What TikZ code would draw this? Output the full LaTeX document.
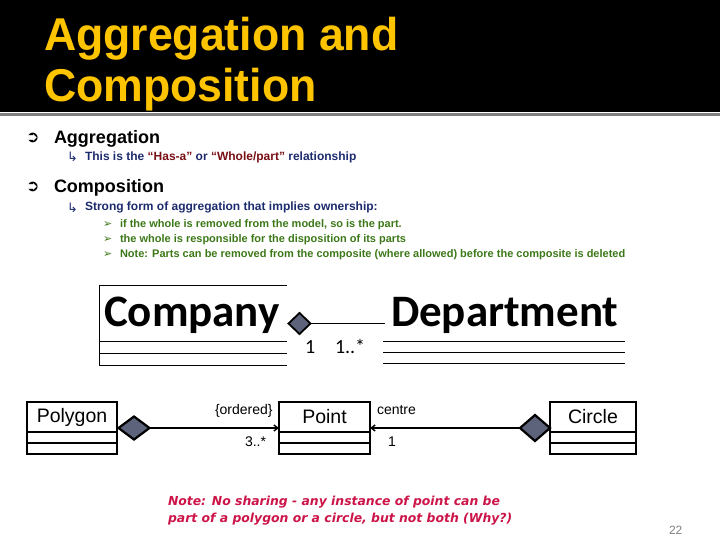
\documentclass[tikz,border=0pt]{standalone}
\usepackage{fontspec}
\setmainfont{Liberation Sans}
\newfontfamily\calib{Carlito}
\newfontfamily\dejavu{DejaVu Sans}
\usetikzlibrary{arrows.meta,shapes.geometric}
\definecolor{titleyellow}{RGB}{255,196,0}
\definecolor{navy}{RGB}{28,42,110}
\definecolor{darkred}{RGB}{120,14,20}
\definecolor{dgreen}{RGB}{60,120,24}
\definecolor{notered}{RGB}{204,20,72}
\definecolor{diafill}{RGB}{92,99,122}
\newcommand{\fs}[1]{\fontsize{#1}{#1}\selectfont}
\begin{document}
\begin{tikzpicture}[x=1pt,y=-1pt,
  every node/.style={inner sep=0pt,outer sep=0pt},
  titletext/.style={anchor=base west,text=titleyellow,font=\fs{46}\bfseries},
  headtext/.style={anchor=base west,font=\fs{18}\bfseries},
  bulletone/.style={anchor=base west,font=\dejavu\fs{16}},
  subtext/.style={anchor=base west,text=navy,font=\fs{12}\bfseries},
  subbullet/.style={anchor=base west,text=navy,font=\dejavu\fs{13}},
  greentext/.style={anchor=base west,text=dgreen,font=\fs{11}\bfseries},
  greenbullet/.style={anchor=base west,text=dgreen,font=\dejavu\fs{11}},
  bigname/.style={anchor=base west,font=\calib\bfseries\fs{45}},
  mult/.style={anchor=base west,font=\calib\fs{20}},
  umlline/.style={line width=1pt},
  classname/.style={draw,line width=1.6pt,anchor=north west,minimum height=30pt,font=\fs{19.5}},
  umlthick/.style={line width=1.6pt},
  agg/.style={diamond,draw,line width=2pt,fill=diafill,inner sep=0pt},
  rolelabel/.style={anchor=base west,font=\fs{14}},
  notetext/.style={anchor=base west,text=notered,font=\dejavu\bfseries\itshape\fs{12.4}},
  tip/.style={-{Straight Barb[length=4pt,width=6pt]}}
]
\useasboundingbox (0,0) rectangle (720,540);
% title band
\fill[black] (0,0) rectangle (720,112.5);
\draw[gray,line width=2.5pt] (0,114.5) -- (720,114.5);
\node[titletext] (t1) at (44,51) {\scalebox{0.97}[1]{Aggregation and}};
\node[titletext] (t2) at (44,102) {\scalebox{0.97}[1]{Composition}};
% bullets
\node[bulletone] (b1) at (26,143) {➲};
\node[headtext] (h1) at (54,144) {Aggregation};
\node[subbullet] (sb1) at (67,162) {↳};
\node[subtext] (s1) at (85,161) {This is the {\color{darkred}“Has-a”} or {\color{darkred}“Whole/part”} relationship};
\node[bulletone] (b2) at (26,192) {➲};
\node[headtext] (h2) at (54,193) {Composition};
\node[subbullet] (sb2) at (67,212) {↳};
\node[subtext] (s2) at (85,211) {Strong form of aggregation that implies ownership:};
\node[greenbullet] (g1b) at (103,227) {➢};
\node[greentext] (g1) at (120,227) {if the whole is removed from the model, so is the part.};
\node[greenbullet] (g2b) at (103,243) {➢};
\node[greentext] (g2) at (120,243) {the whole is responsible for the disposition of its parts};
\node[greenbullet] (g3b) at (103,258) {➢};
\node[greentext] (g3) at (120,258) {Note: Parts can be removed from the composite (where allowed) before the composite is deleted};
% Company / Department
\draw[umlline] (99,285) -- (287,285);
\draw[umlline] (99,285) -- (99,365);
\draw[umlline] (99,341) -- (287,341);
\draw[umlline] (99,353) -- (287,353);
\draw[umlline] (99,365) -- (287,365);
\draw[umlline] (383,341) -- (625,341);
\draw[umlline] (383,352) -- (625,352);
\draw[umlline] (383,363) -- (625,363);
\node[bigname] (company) at (104,326) {Company};
\node[bigname] (department) at (391,326) {Department};
\node[agg,line width=1.8pt,minimum width=22pt,minimum height=21pt] (cdia) at (299.5,323.5) {};
\coordinate (dend) at (385,323.5);
\draw[line width=1.4pt] (cdia.east) -- (dend);
\node[mult] (m1) at (305,353) {1};
\node[mult] (m2) at (335,353) {1..*};
% Polygon / Point / Circle
\node[classname,minimum width=90pt] (poly) at (27,402) {Polygon};
\draw[umlthick] (poly.south west) rectangle ++(90,11) ++(-90,0) rectangle ++(90,11);
\node[classname,minimum width=91pt] (point) at (279,402) {Point};
\draw[umlthick] (point.south west) rectangle ++(91,11) ++(-91,0) rectangle ++(91,11);
\node[classname,minimum width=86pt] (circle) at (550,402) {Circle};
\draw[umlthick] (circle.south west) rectangle ++(86,11) ++(-86,0) rectangle ++(86,11);
\node[agg,line width=2.2pt,minimum width=31pt,minimum height=23pt] (pdia) at (134,428) {};
\node[agg,line width=2.2pt,minimum width=30pt,minimum height=26pt] (kdia) at (535,428) {};
\draw[line width=1.4pt,tip] (pdia.east) -- (pdia.east -| point.west);
\draw[line width=1.4pt,tip] (kdia.west) -- (kdia.west -| point.east);
\node[rolelabel] (ord) at (215,414) {\{ordered\}};
\node[rolelabel] (m3) at (245,446) {3..*};
\node[rolelabel] (cen) at (377,414) {centre};
\node[rolelabel] (m4) at (388,446) {1};
% note
\node[notetext] (n1) at (168,505) {Note: No sharing - any instance of point can be};
\node[notetext] (n2) at (168,522) {part of a polygon or a circle, but not both (Why?)};
\node[anchor=base west,text=gray,font=\fs{12}] (pg) at (669,534) {22};
\end{tikzpicture}
\end{document}
